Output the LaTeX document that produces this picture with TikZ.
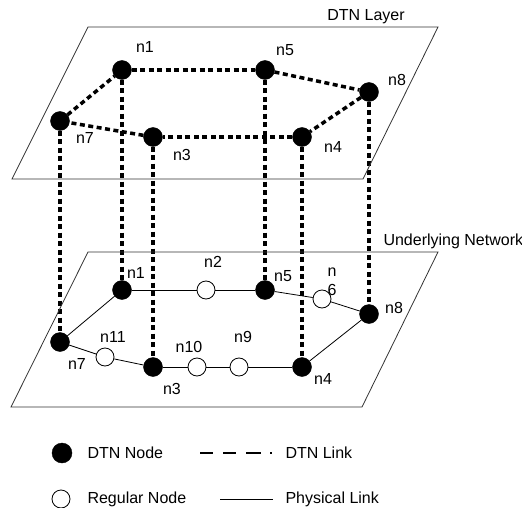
\documentclass[tikz,border=0pt]{standalone}
\usepackage{fontspec}
\setmainfont{Liberation Sans}
\usepackage{tikz}
\usetikzlibrary{calc}
\usetikzlibrary{shapes.misc,calc, positioning, backgrounds}

\begin{document}
\begin{tikzpicture}[x=1pt,y=-1pt,-,auto,
                    font=\fontsize{16}{18.5}\selectfont,
                    dtn node/.style={circle,draw,fill=black,inner sep=0pt,minimum size=19pt},
                    reg node/.style={circle,draw,fill=white,line width=0.8pt,inner sep=0pt,minimum size=18pt},
                    plane/.style={draw=black!80,line width=0.8pt},
                    dtn link/.style={line width=3.5pt,dash pattern=on 5pt off 3.5pt},
                    phys link/.style={line width=0.8pt}]

  \useasboundingbox (0,0) rectangle (522,508);

  % the two layers
  \draw[plane] (88,27) -- (438,27) -- (363,179) -- (12,179) -- cycle;
  \draw[plane] (88,252) -- (438,252) -- (362,407) -- (11,407) -- cycle;
  \node (dtnlayer) at (366,17) {DTN Layer};
  \node[anchor=west] (underlying) at (380,241) {Underlying Network};

  % DTN layer
  \node[dtn node] (1) at (122,70) {};
  \node[dtn node] (5) at (265,70) {};
  \node[dtn node] (8) at (369,92) {};
  \node[dtn node] (7) at (60,121) {};
  \node[dtn node] (3) at (153,137) {};
  \node[dtn node] (4) at (302,137) {};

  % underlying network
  \node[dtn node] (b1) at (122,290) {};
  \node[reg node] (b2) at (206,290) {};
  \node[dtn node] (b5) at (265,290) {};
  \node[reg node] (b6) at (322,299) {};
  \node[dtn node] (b8) at (369,314) {};
  \node[dtn node] (b7) at (60,342) {};
  \node[reg node] (b11) at (105,357) {};
  \node[dtn node] (b3) at (153,367) {};
  \node[reg node] (b10) at (197,367) {};
  \node[reg node] (b9) at (239,367) {};
  \node[dtn node] (b4) at (302,367) {};

  \begin{scope}[on background layer]
  \path[dtn link]
    (7) edge (1)
    (1) edge (5)
    (5) edge (8)
    (8) edge (4)
    (4) edge (3)
    (3) edge (7);

  \path[dtn link]
    (1) edge (b1)
    (3) edge (b3)
    (4) edge (b4)
    (5) edge (b5)
    (7) edge (b7)
    (8) edge (b8);
  \end{scope}

  \path[phys link]
    (b7) edge (b1)
    (b1) edge (b2)
    (b2) edge (b5)
    (b5) edge (b6)
    (b6) edge (b8)
    (b8) edge (b4)
    (b4) edge (b9)
    (b9) edge (b10)
    (b10) edge (b3)
    (b3) edge (b11)
    (b11) edge (b7);

  % labels
  \node (l1) at (145,47) {n1};
  \node (l5) at (285,50) {n5};
  \node (l8) at (397,80) {n8};
  \node (l7) at (85,138) {n7};
  \node (l3) at (182,155) {n3};
  \node (l4) at (333,147) {n4};

  \node (lb1) at (136,273) {n1};
  \node (lb2) at (213,262) {n2};
  \node (lb5) at (283,276) {n5};
  \node[align=center,inner sep=0pt] (lb6) at (332,282) {n\\6};
  \node (lb8) at (394,308) {n8};
  \node (lb11) at (113,337) {n11};
  \node (lb10) at (189,347) {n10};
  \node (lb9) at (243,337) {n9};
  \node (lb7) at (77,364) {n7};
  \node (lb3) at (172,389) {n3};
  \node (lb4) at (323,379) {n4};

  % legend
  \node[dtn node,minimum size=20pt] (kdtn) at (62,453) {};
  \node[anchor=west] (kdtntext) at (84,453) {DTN Node};
  \node[reg node] (kreg) at (61,499) {};
  \node[anchor=west] (kregtext) at (84,499) {Regular Node};
  \coordinate (kd1) at (200,453);
  \coordinate (kd2) at (272,453);
  \draw[line width=2pt,dash pattern=on 13pt off 10pt on 13pt off 10pt on 15pt off 9pt on 2pt] (kd1) -- (kd2);
  \node[anchor=west] (kdlinktext) at (282,453) {DTN Link};
  \coordinate (kp1) at (220,499);
  \coordinate (kp2) at (273,499);
  \draw[phys link] (kp1) -- (kp2);
  \node[anchor=west] (kplinktext) at (282,499) {Physical Link};
\end{tikzpicture}
\end{document}
